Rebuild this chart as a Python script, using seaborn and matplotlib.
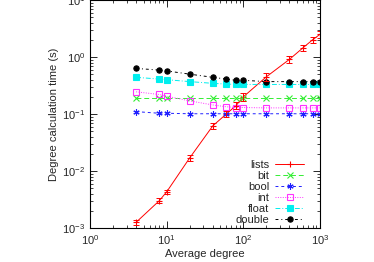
import numpy as np
import pandas as pd
import matplotlib
matplotlib.use("Agg")
import matplotlib.pyplot as plt
import seaborn as sns

degree = [4, 8, 10, 20, 40, 60, 80, 100, 200, 400, 600, 800, 1000]
lists = [0.00126, 0.0030, 0.0043, 0.017, 0.062, 0.10, 0.14, 0.20, 0.45, 0.91, 1.45, 2.0, 2.5]
lists_err = [0.00012, 0.0003, 0.0004, 0.002, 0.008, 0.012, 0.02, 0.03, 0.07, 0.13, 0.2, 0.25, 0.35]
bit = [0.19, 0.19, 0.19, 0.19, 0.19, 0.19, 0.19, 0.19, 0.19, 0.19, 0.19, 0.19, 0.19]
bool_ = [0.11, 0.103, 0.103, 0.101, 0.101, 0.101, 0.101, 0.101, 0.101, 0.101, 0.101, 0.101, 0.101]
int_ = [0.245, 0.22, 0.205, 0.17, 0.144, 0.134, 0.13, 0.13, 0.128, 0.128, 0.128, 0.128, 0.128]
float_ = [0.44, 0.41, 0.40, 0.37, 0.345, 0.335, 0.33, 0.33, 0.33, 0.33, 0.33, 0.33, 0.33]
double = [0.63, 0.59, 0.57, 0.50, 0.44, 0.41, 0.39, 0.39, 0.37, 0.37, 0.37, 0.37, 0.37]

series = [
    ("lists", lists, "#ff0000", "+", "-", dict(mfc="#ff0000")),
    ("bit", bit, "#33ee33", "x", (0, (5, 3)), dict(mfc="#33ee33")),
    ("bool", bool_, "#2020ff", (6, 2, 0), (0, (3, 3)), dict(mfc="#2020ff")),
    ("int", int_, "#ff33ff", "s", (0, (1, 1.5)), dict(mfc="none")),
    ("float", float_, "#00eeee", "s", (0, (5, 2, 1, 2)), dict(mfc="#00eeee")),
    ("double", double, "#000000", "o", (0, (3, 3, 1, 3)), dict(mfc="#000000")),
]

sns.set_style("ticks")
plt.rcParams["font.family"] = ["Liberation Sans", "DejaVu Sans"]
plt.rcParams["mathtext.default"] = "regular"

fig = plt.figure(figsize=(3.74, 2.62), dpi=100)
ax = fig.add_axes([0.2406, 0.1298, 0.615, 0.8702])

for name, vals, col, mk, ls, kw in series:
    df = pd.DataFrame({"x": degree, "y": vals})
    sns.lineplot(data=df, x="x", y="y", ax=ax, color=col, marker=mk,
                 linestyle=ls, linewidth=0.7, markersize=4.5 if mk not in ("s", "o") else 3.8,
                 markeredgecolor=col, markeredgewidth=0.8, label=name, **kw)

ax.errorbar(degree, lists, yerr=lists_err, fmt="none", ecolor="#ff0000",
            elinewidth=0.7, capsize=2.5, capthick=0.7)

ax.set_xscale("log")
ax.set_yscale("log")
ax.set_xlim(1, 1000)
ax.set_ylim(1e-3, 10)
ax.set_xlabel("Average degree", fontsize=8, labelpad=2)
ax.set_ylabel("Degree calculation time (s)", fontsize=8, labelpad=2)

ax.tick_params(which="both", direction="in", top=True, right=True, labelsize=8)
ax.tick_params(which="major", length=5, width=0.7)
ax.tick_params(which="minor", length=2.5, width=0.6)
for s in ax.spines.values():
    s.set_linewidth(0.8)
    s.set_color("black")

leg = ax.legend(loc="lower right", bbox_to_anchor=(0.965, -0.02), frameon=False,
                markerfirst=False, fontsize=8, handlelength=2.6,
                handletextpad=0.55, labelspacing=0.08, borderpad=0.2)

fig.savefig("out.png", dpi=100)
